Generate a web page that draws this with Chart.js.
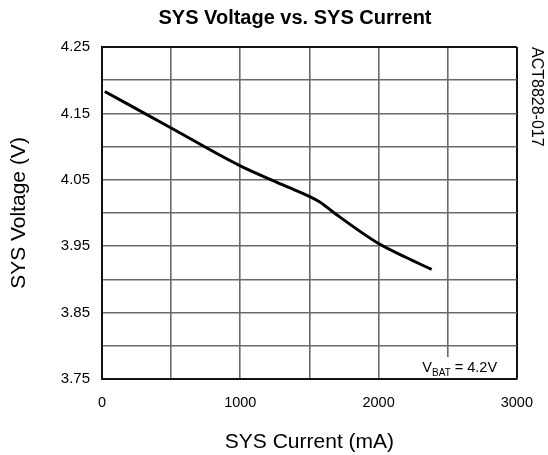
<!DOCTYPE html>
<html>
<head>
<meta charset="utf-8">
<script src="https://cdn.jsdelivr.net/npm/chart.js@4/dist/chart.umd.min.js"></script>
<style>
  html, body { margin: 0; padding: 0; background: #fff; }
  #wrap { width: 548px; height: 455px; }
</style>
</head>
<body>
<div id="wrap"><canvas id="c" width="548" height="455"></canvas></div>
<script>
// ---- data ----
const chartTitle = 'SYS Voltage vs. SYS Current';
const xTitle = 'SYS Current (mA)';
const yTitle = 'SYS Voltage (V)';
const figureId = 'ACT8828-017';
const noteMain = 'V';
const noteSub = 'BAT';
const noteRest = ' = 4.2V';

const sysCurrent = [20, 500, 1000, 1300, 1572, 1680, 2000, 2200, 2384];
const sysVoltage = [4.183, 4.128, 4.071, 4.043, 4.017, 4.000, 3.954, 3.933, 3.915];

const xMin = 0, xMax = 3000, xGridStep = 500, xLabelStep = 1000;
const yMin = 3.75, yMax = 4.25, yGridStep = 0.05;
const yLabels = [3.75, 3.85, 3.95, 4.05, 4.15, 4.25];

// ---- chart ----
const FONT = '"Liberation Sans", Arial, Helvetica, sans-serif';
Chart.defaults.font.family = FONT;
Chart.defaults.color = '#000';

const points = sysCurrent.map((x, i) => ({ x: x, y: sysVoltage[i] }));

const gridColor = (c, max) => (Math.abs(c.tick.value - max) < 1e-6 ? '#111' : '#6a6a6a');
const gridWidth = (c, max) => (Math.abs(c.tick.value - max) < 1e-6 ? 2 : 1.6);

const shiftTitle = {
  id: 'shiftTitle',
  afterLayout(chart) {
    if (chart.titleBlock) { chart.titleBlock.left += 42; }
  }
};

const noteBox = {
  id: 'noteBox',
  afterDatasetsDraw(chart) {
    const { ctx, chartArea: a } = chart;
    ctx.save();
    ctx.fillStyle = '#fff';
    ctx.fillRect(a.right - 101, a.bottom - 22, 100, 21);
    ctx.fillStyle = '#000';
    ctx.textBaseline = 'alphabetic';
    ctx.textAlign = 'left';
    let x = a.right - 94.5;
    const y = a.bottom - 7;
    ctx.font = '14.5px ' + FONT;
    ctx.fillText(noteMain, x, y);
    x += ctx.measureText(noteMain).width;
    ctx.font = '10px ' + FONT;
    ctx.fillText(noteSub, x, y + 4);
    x += ctx.measureText(noteSub).width;
    ctx.font = '14.5px ' + FONT;
    ctx.fillText(noteRest, x, y);
    ctx.restore();
  }
};

new Chart(document.getElementById('c'), {
  type: 'line',
  data: {
    datasets: [{
      data: points,
      borderColor: '#000',
      backgroundColor: '#000',
      borderWidth: 3,
      pointRadius: 0,
      fill: false,
      cubicInterpolationMode: 'monotone'
    }]
  },
  options: {
    responsive: false,
    animation: false,
    devicePixelRatio: 1,
    layout: { padding: 0 },
    plugins: {
      legend: { display: false },
      tooltip: { enabled: false },
      title: {
        display: true,
        text: chartTitle,
        color: '#000',
        font: { size: 20, weight: 'bold' },
        padding: { top: 6, bottom: 17 }
      }
    },
    scales: {
      x: {
        type: 'linear',
        min: xMin, max: xMax,
        ticks: {
          stepSize: xGridStep,
          autoSkip: false,
          maxRotation: 0,
          padding: 15,
          color: '#000',
          font: { size: 14.5 },
          callback: v => (v % xLabelStep === 0 ? String(v) : '')
        },
        grid: {
          drawTicks: false,
          color: c => gridColor(c, xMax),
          lineWidth: c => gridWidth(c, xMax)
        },
        border: { color: '#111', width: 2 },
        title: {
          display: true, text: xTitle, color: '#000',
          font: { size: 21 }, padding: { top: 18, bottom: 0 }
        },
        afterFit: s => { s.height = 76; }
      },
      y: {
        type: 'linear',
        position: 'left',
        min: yMin, max: yMax,
        ticks: {
          stepSize: yGridStep,
          autoSkip: false,
          padding: 12,
          color: '#000',
          font: { size: 15 },
          callback: v => (yLabels.some(l => Math.abs(l - v) < 1e-6) ? v.toFixed(2) : '')
        },
        grid: {
          drawTicks: false,
          color: c => gridColor(c, yMax),
          lineWidth: c => gridWidth(c, yMax)
        },
        border: { color: '#111', width: 2 },
        title: {
          display: true, text: yTitle, color: '#000',
          font: { size: 21 }, padding: { top: 7, bottom: 0 }
        },
        afterFit: s => { s.width = 102; }
      },
      side: {
        type: 'linear',
        position: 'right',
        display: true,
        ticks: { display: false },
        grid: { display: false, drawTicks: false },
        border: { display: false },
        title: {
          display: true, text: figureId, color: '#000', align: 'end',
          font: { size: 16 }, padding: { top: 1.4, bottom: 0 }
        },
        afterFit: s => { s.width = 30.5; }
      }
    }
  },
  plugins: [shiftTitle, noteBox]
});
</script>
</body>
</html>
